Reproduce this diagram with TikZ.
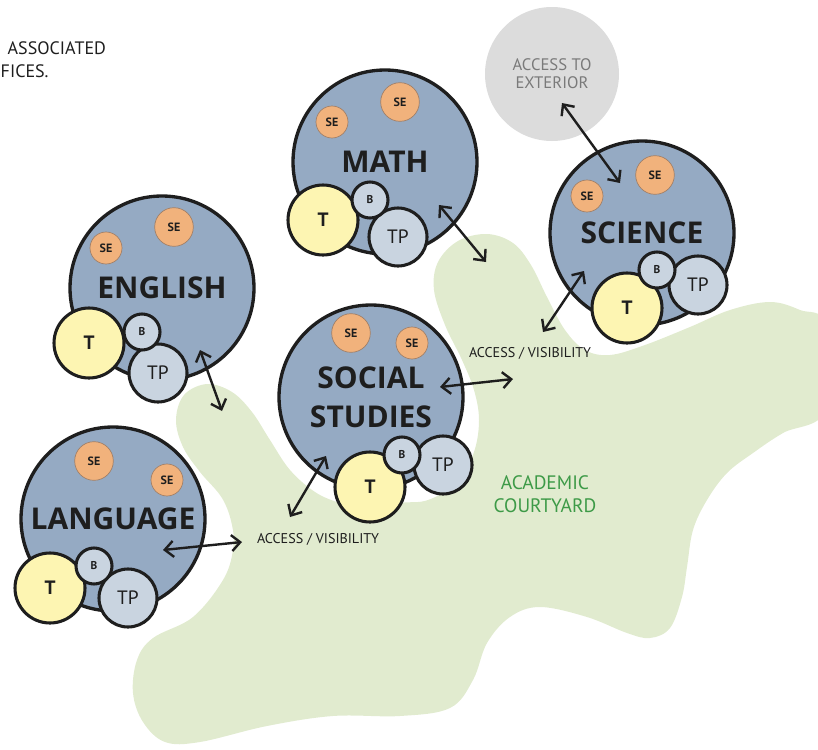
\documentclass[tikz,border=0pt]{standalone}
\usepackage{fontspec}
\setmainfont{PT Sans}
\newfontfamily\deptfont{Open Sans}
\definecolor{ink}{HTML}{1E1E1E}
\definecolor{deptblue}{HTML}{95AAC3}
\definecolor{seorange}{HTML}{F1B27C}
\definecolor{sebrd}{HTML}{A07E66}
\definecolor{tyellow}{HTML}{FDF5B2}
\definecolor{tpblue}{HTML}{C9D4E0}
\definecolor{yard}{HTML}{E1EBCF}
\definecolor{yardtext}{HTML}{3D9A47}
\definecolor{extgray}{HTML}{DCDCDC}
\definecolor{exttext}{HTML}{7A7A7A}
\usetikzlibrary{positioning, shapes, arrows.meta, calc}

\begin{document}
\begin{tikzpicture}[x=0.75pt, y=-0.75pt, every node/.style={align=center},
    dept/.style={circle, draw=ink, fill=deptblue, line width=2.5pt, minimum size=138pt, inner sep=0pt, text=ink, font=\deptfont\fontsize{22.5}{29}\selectfont\bfseries},
    se/.style={circle, draw=sebrd, fill=seorange, line width=0.5pt, inner sep=0pt, text=ink, font=\fontsize{9}{9}\selectfont\bfseries},
    tt/.style={circle, draw=ink, fill=tyellow, line width=2.3pt, minimum size=52.5pt, inner sep=0pt, text=ink, font=\fontsize{14.5}{14}\selectfont\bfseries},
    bb/.style={circle, draw=ink, fill=tpblue, line width=2.3pt, minimum size=27pt, inner sep=0pt, text=ink, font=\fontsize{8.5}{9}\selectfont\bfseries},
    tp/.style={circle, draw=ink, fill=tpblue, line width=2.3pt, minimum size=43.5pt, inner sep=0pt, text=ink, font=\fontsize{14.5}{14}\selectfont},
    acc/.style={{Straight Barb[length=6.5pt,width=12pt]}-{Straight Barb[length=6.5pt,width=12pt]}, line width=1.8pt, draw=ink},
    note/.style={text=ink, font=\fontsize{10.6}{12}\selectfont}]
\useasboundingbox (0,0) rectangle (818,750);

% courtyard
\fill[yard] plot[smooth cycle, tension=0.6] coordinates {
    (176,420) (184,395) (207,384) (232,392) (252,412) (270,440) (290,470)
    (315,492) (340,503) (370,510) (400,503) (428,500) (458,482) (474,452)
    (479,420) (474,390) (462,360) (445,325) (434,290) (438,262) (458,241)
    (487,234) (513,243) (531,265) (547,297) (565,330) (585,350) (610,355)
    (645,345) (690,327) (730,310) (770,302) (800,310) (826,325) (826,410)
    (783,433) (753,453) (727,473) (707,500) (693,530) (687,567) (682,597)
    (670,628) (650,638) (627,633) (587,617) (540,607) (510,617) (487,643)
    (473,680) (450,708) (400,716) (333,716) (267,726) (200,742) (165,742)
    (143,722) (133,693) (137,660) (153,638) (193,617) (223,580) (233,550)
    (232,525) (222,498) (200,472) (183,447)};
\node[text=yardtext, font=\fontsize{14.6}{17.5}\selectfont] (yardlbl) at (545,494) {ACADEMIC\\COURTYARD};

% exterior
\node[circle, fill=extgray, minimum size=100.5pt, inner sep=0pt, text=exttext, font=\fontsize{12.5}{13.5}\selectfont] (ext) at (552,74) {ACCESS TO\\EXTERIOR};

\node[anchor=west, text=ink, font=\fontsize{13.5}{15}\selectfont] (hdA) at (3,48) {ASSOCIATED};
\node[anchor=west, text=ink, font=\fontsize{13.5}{15}\selectfont] (hdB) at (-4,71) {FICES.};

% math
\node[dept] (math) at (385,162) {MATH};
\node[se, minimum size=24pt] (mathSEa) at (332,122) {SE};
\node[se, minimum size=29pt] (mathSEb) at (400,102) {SE};
\node[tt] (mathT) at (323,220) {T};
\node[tp] (mathTP) at (398,237) {TP};
\node[bb] (mathB) at (370,200) {B};

% english
\node[dept] (eng) at (162,288) {ENGLISH};
\node[se, minimum size=24pt] (engSEa) at (106,248) {SE};
\node[se, minimum size=29pt] (engSEb) at (174,227) {SE};
\node[tt] (engT) at (89,343) {T};
\node[tp] (engTP) at (158,373) {TP};
\node[bb] (engB) at (142,332) {B};

% science
\node[dept] (sci) at (642,233) {SCIENCE};
\node[se, minimum size=24pt] (sciSEa) at (587,196) {SE};
\node[se, minimum size=29pt] (sciSEb) at (655,175) {SE};
\node[tt] (sciT) at (627,308) {T};
\node[tp] (sciTP) at (698,285) {TP};
\node[bb] (sciB) at (657,270) {B};

% social studies
\node[dept] (soc) at (371,397) {SOCIAL\\STUDIES};
\node[se, minimum size=29pt] (socSEa) at (351,333) {SE};
\node[se, minimum size=24pt] (socSEb) at (412,343) {SE};
\node[tt] (socT) at (370,487) {T};
\node[tp] (socTP) at (443,465) {TP};
\node[bb] (socB) at (402,455) {B};

% language
\node[dept] (lang) at (113,519) {LANGUAGE};
\node[se, minimum size=29pt] (langSEa) at (94,461) {SE};
\node[se, minimum size=24pt] (langSEb) at (167,480) {SE};
\node[tt] (langT) at (50,588) {T};
\node[tp] (langTP) at (128,598) {TP};
\node[bb] (langB) at (94,566) {B};

% access / visibility
\node[note] (visA) at (530,353) {ACCESS / VISIBILITY};
\node[note] (visB) at (318,539) {ACCESS / VISIBILITY};

\coordinate (mathIn) at (439,205);   \coordinate (mathOut) at (486,262);
\coordinate (extIn) at (562,103);    \coordinate (extOut) at (620,183);
\coordinate (sciIn) at (584,271);    \coordinate (sciOut) at (543,332);
\coordinate (engIn) at (200,350);    \coordinate (engOut) at (222,411);
\coordinate (socIn) at (440,387);    \coordinate (socOut) at (513,379);
\coordinate (socIn2) at (326,456);   \coordinate (socOut2) at (290,517);
\coordinate (langIn) at (163,550);   \coordinate (langOut) at (242,542);

\draw[acc] (mathIn) -- (mathOut);
\draw[acc] (extIn) -- (extOut);
\draw[acc] (sciIn) -- (sciOut);
\draw[acc] (engIn) -- (engOut);
\draw[acc] (socIn) -- (socOut);
\draw[acc] (socIn2) -- (socOut2);
\draw[acc] (langIn) -- (langOut);
\end{tikzpicture}
\end{document}
